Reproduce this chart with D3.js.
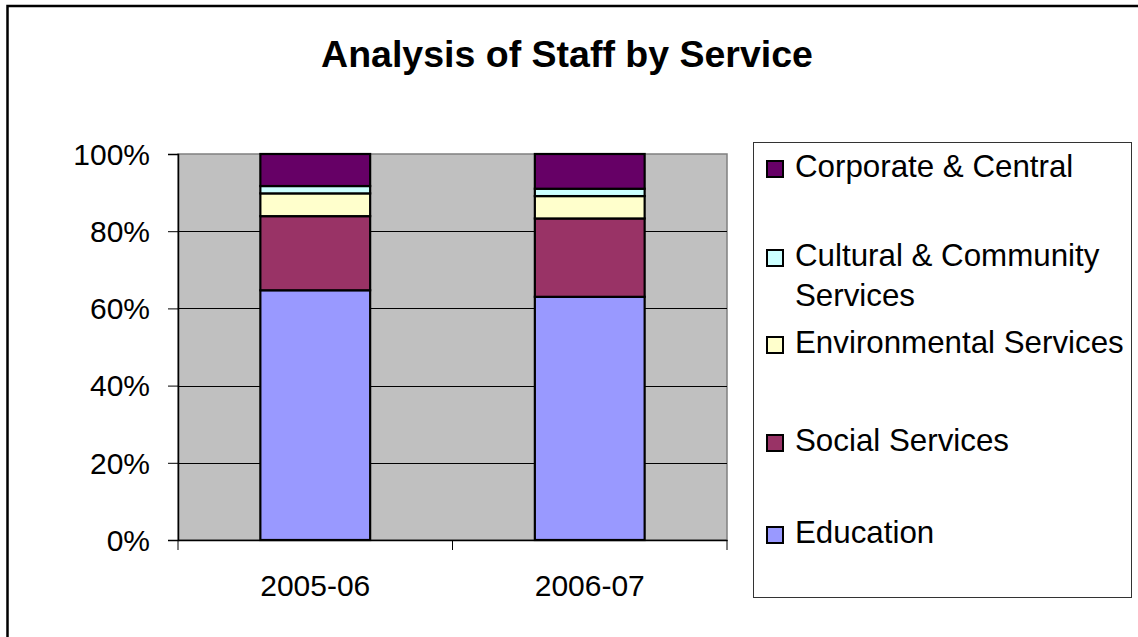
<!DOCTYPE html>
<html>
<head>
<meta charset="utf-8">
<script src="https://cdn.jsdelivr.net/npm/d3@7"></script>
<style>
  html, body { margin: 0; padding: 0; background: #fff; }
  svg { display: block; font-family: Arial, "Liberation Sans", sans-serif; }
</style>
</head>
<body>
<svg id="chart" width="1138" height="637"></svg>
<script>
// Share of staff by service, per year (percent of total)
const years = ["2005-06", "2006-07"];
const services = ["Education", "Social Services", "Environmental Services", "Cultural & Community Services", "Corporate & Central"];
const education     = [64.7, 63.0];
const social        = [19.2, 20.3];
const environmental = [5.9, 5.8];
const cultural      = [1.9, 1.9];
const corporate     = [8.3, 9.0];
const yTicks = [0, 20, 40, 60, 80, 100];
const colors = ["#9999FF", "#993366", "#FFFFCC", "#CCFFFF", "#660066"];

const seriesValues = [education, social, environmental, cultural, corporate];
const rows = years.map((yr, i) => {
  const r = { year: yr };
  services.forEach((s, k) => { r[s] = seriesValues[k][i]; });
  return r;
});
const stacked = d3.stack().keys(services).offset(d3.stackOffsetExpand)(rows);

const svg = d3.select("#chart");

// outer chart frame
svg.append("rect")
  .attr("x", 7.5).attr("y", 6)
  .attr("width", 1200).attr("height", 700)
  .attr("fill", "#fff").attr("stroke", "#000").attr("stroke-width", 2.5);

// title
svg.append("text")
  .attr("x", 567).attr("y", 67)
  .attr("text-anchor", "middle")
  .style("font-size", "37.5px").style("font-weight", "bold")
  .text("Analysis of Staff by Service");

const plot = { left: 178, right: 727, top: 154, bottom: 540 };

const x = d3.scaleBand().domain(years)
  .range([plot.left, plot.right])
  .paddingInner(0.6).paddingOuter(0.3);
const y = d3.scaleLinear().domain([0, 1]).range([plot.bottom, plot.top]);

// plot background
svg.append("rect")
  .attr("x", plot.left).attr("y", plot.top)
  .attr("width", plot.right - plot.left).attr("height", plot.bottom - plot.top)
  .attr("fill", "#C0C0C0").attr("stroke", "#808080").attr("stroke-width", 1.5);

// gridlines
svg.append("g").selectAll("line")
  .data(yTicks.filter(t => t > 0 && t < 100))
  .join("line")
  .attr("x1", plot.left).attr("x2", plot.right)
  .attr("y1", d => Math.round(y(d / 100)) + 0.5)
  .attr("y2", d => Math.round(y(d / 100)) + 0.5)
  .attr("stroke", "#000").attr("stroke-width", 1);

// stacked bars
svg.append("g").selectAll("g")
  .data(stacked)
  .join("g")
  .attr("fill", (d, i) => colors[i])
  .selectAll("rect")
  .data(d => d)
  .join("rect")
  .attr("x", d => x(d.data.year))
  .attr("width", x.bandwidth())
  .attr("y", d => y(d[1]))
  .attr("height", d => y(d[0]) - y(d[1]))
  .attr("stroke", "#000").attr("stroke-width", 2.2);

// y axis
const yAxis = svg.append("g")
  .attr("transform", `translate(${plot.left},0)`)
  .call(d3.axisLeft(y)
    .tickValues(yTicks.map(t => t / 100))
    .tickFormat(d3.format(".0%"))
    .tickSize(10).tickPadding(18));
yAxis.select(".domain").attr("stroke", "#000").attr("stroke-width", 1.5);
yAxis.selectAll(".tick line").attr("stroke", "#000");
yAxis.selectAll("text").style("font-size", "30px").attr("fill", "#000").attr("dy", "0.34em");

// x axis labels
const xAxis = svg.append("g")
  .attr("transform", `translate(0,${plot.bottom})`)
  .call(d3.axisBottom(x).tickSize(0).tickPadding(0));
xAxis.select(".domain").attr("stroke", "#000").attr("stroke-width", 1.5);
xAxis.selectAll("text").style("font-size", "30px").attr("fill", "#000")
  .attr("y", 56).attr("dy", 0);

// category boundary ticks
const boundaries = d3.range(years.length + 1).map(i =>
  plot.left + i * (plot.right - plot.left) / years.length);
svg.append("g").selectAll("line")
  .data(boundaries)
  .join("line")
  .attr("x1", d => d).attr("x2", d => d)
  .attr("y1", plot.bottom).attr("y2", plot.bottom + 10)
  .attr("stroke", "#000").attr("stroke-width", 1);

// legend
svg.append("rect")
  .attr("x", 753.5).attr("y", 142.5)
  .attr("width", 378).attr("height", 455)
  .attr("fill", "#fff").attr("stroke", "#333").attr("stroke-width", 1);

const legendItems = [
  { i: 4, lines: ["Corporate & Central"], base: 177 },
  { i: 3, lines: ["Cultural & Community", "Services"], base: 266 },
  { i: 2, lines: ["Environmental Services"], base: 353 },
  { i: 1, lines: ["Social Services"], base: 451 },
  { i: 0, lines: ["Education"], base: 543 }
];
const lg = svg.append("g").selectAll("g").data(legendItems).join("g");
lg.append("rect")
  .attr("x", 767).attr("y", d => d.base - 16)
  .attr("width", 16).attr("height", 16)
  .attr("fill", d => colors[d.i]).attr("stroke", "#000").attr("stroke-width", 2);
lg.append("text")
  .attr("x", 795).attr("y", d => d.base)
  .style("font-size", "31.3px")
  .selectAll("tspan").data(d => d.lines).join("tspan")
  .attr("x", 795).attr("dy", (d, k) => k === 0 ? 0 : 40)
  .text(d => d);
</script>
</body>
</html>
